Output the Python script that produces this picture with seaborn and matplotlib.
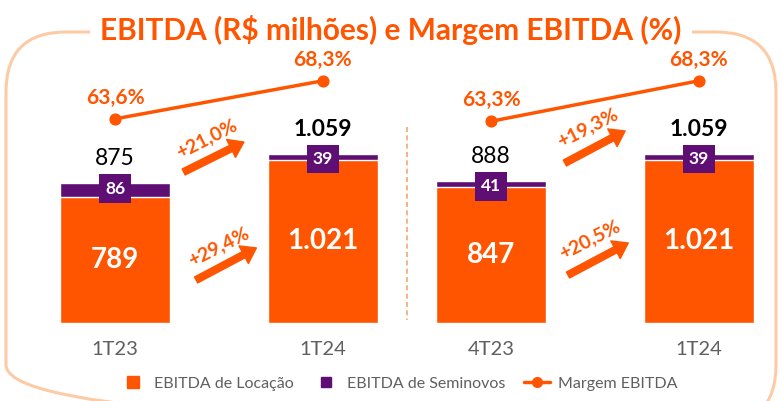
import numpy as np
import pandas as pd
import matplotlib.pyplot as plt
import seaborn as sns
from matplotlib.patches import FancyBboxPatch
from matplotlib.lines import Line2D

sns.set_theme(style='white')
plt.rcParams['font.family'] = ['Lato', 'DejaVu Sans']

ORANGE = '#FF5500'
PURPLE = '#5F0F73'
GRAY = '#5F5F5F'
FRAME = '#FCCBA6'

# Left panel: 1T23 vs 1T24
periods_left = ['1T23', '1T24']
locacao_left = [789, 1021]
seminovos_left = [86, 39]
total_left = [875, 1059]
margem_left = [63.6, 68.3]
growth_total_left = '+21,0%'
growth_loc_left = '+29,4%'

# Right panel: 4T23 vs 1T24
periods_right = ['4T23', '1T24']
locacao_right = [847, 1021]
seminovos_right = [41, 39]
total_right = [888, 1059]
margem_right = [63.3, 68.3]
growth_total_right = '+19,3%'
growth_loc_right = '+20,5%'

legend_labels = ['EBITDA de Locação', 'EBITDA de Seminovos', 'Margem EBITDA']
title = 'EBITDA (R$ milhões) e Margem EBITDA (%)'


def fmt(v):
    return f'{v:,}'.replace(',', '.')


def fmt_pct(v):
    return f'{v:.1f}%'.replace('.', ',')


def draw_panel(ax, periods, loc, semi, total, margem, g_total, g_loc, arrows):
    df = pd.DataFrame({'periodo': periods, 'locacao': loc, 'seminovos': semi,
                       'total': total, 'margem': margem})
    sns.barplot(data=df, x='periodo', y='total', color=PURPLE, width=0.53,
                saturation=1, ax=ax)
    sns.barplot(data=df, x='periodo', y='locacao', color=ORANGE, width=0.53,
                saturation=1, ax=ax)
    ax.set_xlim(-0.4, 1.4)
    ax.set_ylim(0, 1600)
    ax.set_xlabel('')
    ax.set_ylabel('')
    ax.set_yticks([])
    sns.despine(ax=ax, left=True, bottom=True)
    ax.tick_params(axis='x', length=0, pad=13, labelsize=14.5, labelcolor=GRAY)
    ax.patch.set_alpha(0)

    for i in range(len(df)):
        ax.text(i, df.locacao[i] / 2, fmt(df.locacao[i]), ha='center', va='center',
                color='white', fontsize=20, fontweight='bold')
        ax.annotate(str(df.seminovos[i]), (i, df.total[i]), xytext=(0, -4),
                    textcoords='offset points', ha='center', va='center',
                    color='white', fontsize=12.5, fontweight='bold',
                    bbox=dict(boxstyle='square,pad=0.35', fc=PURPLE, ec='none'))
        ax.annotate(fmt(df.total[i]), (i, df.total[i]), xytext=(0, 10),
                    textcoords='offset points', ha='center', va='bottom',
                    color='black', fontsize=16.5,
                    fontweight='bold' if i == 1 else 'normal')

    # growth arrows
    for (tail, head, txt_pos, txt) in zip(arrows[0], arrows[1], arrows[2], [g_total, g_loc]):
        ax.annotate('', xy=head, xytext=tail,
                    arrowprops=dict(arrowstyle='simple,head_length=0.9,head_width=1.25,tail_width=0.42',
                                    color=ORANGE, mutation_scale=11.5, shrinkA=0, shrinkB=0))
        ax.text(txt_pos[0], txt_pos[1], txt, ha='center', va='center', rotation=27,
                color=ORANGE, fontsize=14, fontweight='bold')

    ax2 = ax.twinx()
    sns.lineplot(x=np.arange(len(df)), y=df.margem, color=ORANGE, marker='o',
                 markersize=8, lw=2.5, markeredgecolor=ORANGE, ax=ax2)
    ax2.set_ylim(38.4, 70.0)
    ax2.axis('off')
    for i, m in enumerate(df.margem):
        ax2.annotate(fmt_pct(m), (i, m), xytext=(0, 8), textcoords='offset points',
                     ha='center', va='bottom', color=ORANGE, fontsize=15,
                     fontweight='bold', annotation_clip=False)


fig = plt.figure(figsize=(7.82, 4.01), dpi=100)

# frame and title sit behind the panels
ax_bg = fig.add_axes([0, 0, 1, 1], zorder=-1)
ax_bg.set_xlim(0, 782)
ax_bg.set_ylim(401, 0)
ax_bg.axis('off')
ax_bg.add_patch(FancyBboxPatch((6, 32), 770, 393, boxstyle='round,pad=0,rounding_size=60',
                               fc='none', ec=FRAME, lw=2.2))
ax_bg.plot([407, 407], [127, 320], ls=(0, (3, 2)), color='#F7A673', lw=1.2)
ax_bg.text(391, 30, title, ha='center', va='center', color=ORANGE,
           fontsize=21.5, fontweight='bold',
           bbox=dict(fc='white', ec='none', pad=7))

ax_left = fig.add_axes([32 / 782, 78 / 401, 374 / 782, 256 / 401])
ax_right = fig.add_axes([408 / 782, 78 / 401, 374 / 782, 256 / 401])

arrows_left = ([(0.33, 944), (0.39, 269)],
               [(0.62, 1131), (0.68, 469)],
               [(0.44, 1153), (0.50, 475)])
arrows_right = ([(0.355, 1000), (0.37, 300)],
                [(0.645, 1200), (0.66, 500)],
                [(0.466, 1219), (0.475, 519)])

draw_panel(ax_left, periods_left, locacao_left, seminovos_left, total_left,
           margem_left, growth_total_left, growth_loc_left, arrows_left)
draw_panel(ax_right, periods_right, locacao_right, seminovos_right, total_right,
           margem_right, growth_total_right, growth_loc_right, arrows_right)

handles = [
    Line2D([], [], marker='s', ls='none', color=ORANGE, markersize=9),
    Line2D([], [], marker='s', ls='none', color=PURPLE, markersize=7),
    Line2D([], [], marker='o', color=ORANGE, lw=2.5, markersize=7),
]
fig.legend(handles, legend_labels, loc='center', bbox_to_anchor=(0.51, 0.043), ncol=3,
           frameon=False, fontsize=11.5, labelcolor=GRAY, handlelength=1.6,
           handletextpad=0.5, columnspacing=1.2)

fig.savefig('out.png', dpi=100)
